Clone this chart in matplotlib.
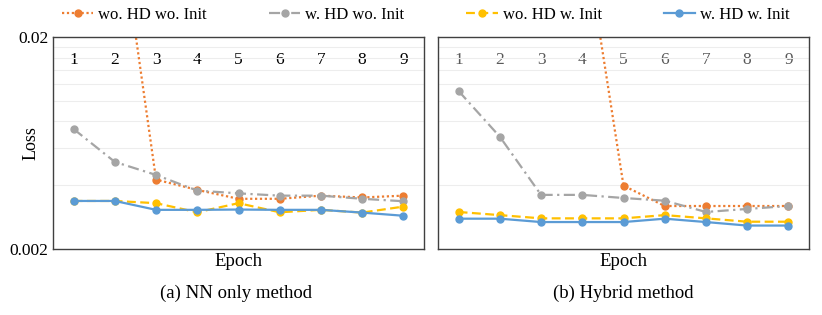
import numpy as np
import matplotlib.pyplot as plt
from matplotlib.ticker import NullFormatter

# Times-like serif font
plt.rcParams["font.family"] = ["Liberation Serif", "DejaVu Serif"]

epochs = [1, 2, 3, 4, 5, 6, 7, 8, 9]
series_labels = ["wo. HD wo. Init", "w. HD wo. Init", "wo. HD w. Init", "w. HD w. Init"]

# (a) NN only method  (nan = above the visible range)
nn_wo_hd_wo_init = [np.nan, 0.101, 0.00425, 0.0038, 0.00345, 0.00345, 0.00357, 0.0035, 0.00357]
nn_w_hd_wo_init = [0.00736, 0.00515, 0.00447, 0.00377, 0.00366, 0.00357, 0.00357, 0.00345, 0.00336]
nn_wo_hd_w_init = [0.00337, 0.00337, 0.00329, 0.00298, 0.00329, 0.00298, 0.00306, 0.00297, 0.00317]
nn_w_hd_w_init = [0.00337, 0.00337, 0.00306, 0.00306, 0.00307, 0.00306, 0.00306, 0.00297, 0.00287]

# (b) Hybrid method
hy_wo_hd_wo_init = [np.nan, np.nan, np.nan, 0.07, 0.00398, 0.00319, 0.00319, 0.00319, 0.00319]
hy_w_hd_wo_init = [0.01112, 0.00677, 0.0036, 0.0036, 0.00348, 0.00338, 0.00299, 0.00309, 0.00319]
hy_wo_hd_w_init = [0.00299, 0.00289, 0.00279, 0.00279, 0.00279, 0.00289, 0.00279, 0.00269, 0.00269]
hy_w_hd_w_init = [0.00278, 0.00278, 0.00268, 0.00268, 0.00268, 0.00278, 0.00268, 0.00258, 0.00258]

grid_values = [0.004, 0.006, 0.008, 0.010, 0.012, 0.014, 0.016, 0.018]

colors = ["#ED7D31", "#A5A5A5", "#FFC000", "#5B9BD5"]
styles = [(0, (1, 1.2)), (0, (5, 2, 1, 2)), (0, (4, 2)), "-"]


def draw_panel(ax, data, tick_color):
    for vals, c, ls, lab in zip(data, colors, styles, series_labels):
        ax.plot(epochs, vals, color=c, linestyle=ls, linewidth=1.6,
                marker="o", markersize=5, label=lab)
    ax.set_yscale("log")
    ax.set_ylim(0.002, 0.02)
    ax.set_xlim(0.5, 9.5)
    ax.set_xticks(epochs)
    ax.set_yticks(grid_values, minor=True)
    ax.yaxis.set_minor_formatter(NullFormatter())
    ax.grid(which="minor", axis="y", color="#EDEDED", linewidth=0.8)
    ax.set_axisbelow(True)
    # category labels sit inside the top of the plot area
    ax.tick_params(axis="x", bottom=False, top=False, labelbottom=False,
                   labeltop=True, pad=-26, labelsize=12.5, labelcolor=tick_color)
    ax.tick_params(axis="y", which="both", length=0, labelsize=12.5)
    for sp in ax.spines.values():
        sp.set_color("#404040")
        sp.set_linewidth(1.0)
    ax.set_xlabel("Epoch", fontsize=13.5, labelpad=3)


fig = plt.figure(figsize=(8.22, 3.15), dpi=100)
ax1 = fig.add_axes([53 / 822, 66 / 315, 371 / 822, 212 / 315])
ax2 = fig.add_axes([438 / 822, 66 / 315, 371 / 822, 212 / 315])

draw_panel(ax1, [nn_wo_hd_wo_init, nn_w_hd_wo_init, nn_wo_hd_w_init, nn_w_hd_w_init], "black")
draw_panel(ax2, [hy_wo_hd_wo_init, hy_w_hd_wo_init, hy_wo_hd_w_init, hy_w_hd_w_init], "#595959")

ax1.set_yticks([0.002, 0.02])
ax1.set_yticklabels(["0.002", "0.02"])
ax1.set_ylabel("Loss", fontsize=13)
ax1.yaxis.set_label_coords(-0.037, 0.5)
ax2.set_yticks([0.002, 0.02])
ax2.set_yticklabels([])

fig.text(236 / 822, 1 - 293 / 315, "(a) NN only method", ha="center", va="center", fontsize=13.5)
fig.text(623 / 822, 1 - 293 / 315, "(b) Hybrid method", ha="center", va="center", fontsize=13.5)

handles, labels = ax1.get_legend_handles_labels()
fig.legend(handles, labels, ncol=4, loc="center", bbox_to_anchor=(0.518, 1 - 15 / 315),
           frameon=False, fontsize=12, handlelength=1.9, handletextpad=0.3,
           columnspacing=3.7)

fig.savefig("out.png", dpi=100)
plt.close(fig)
